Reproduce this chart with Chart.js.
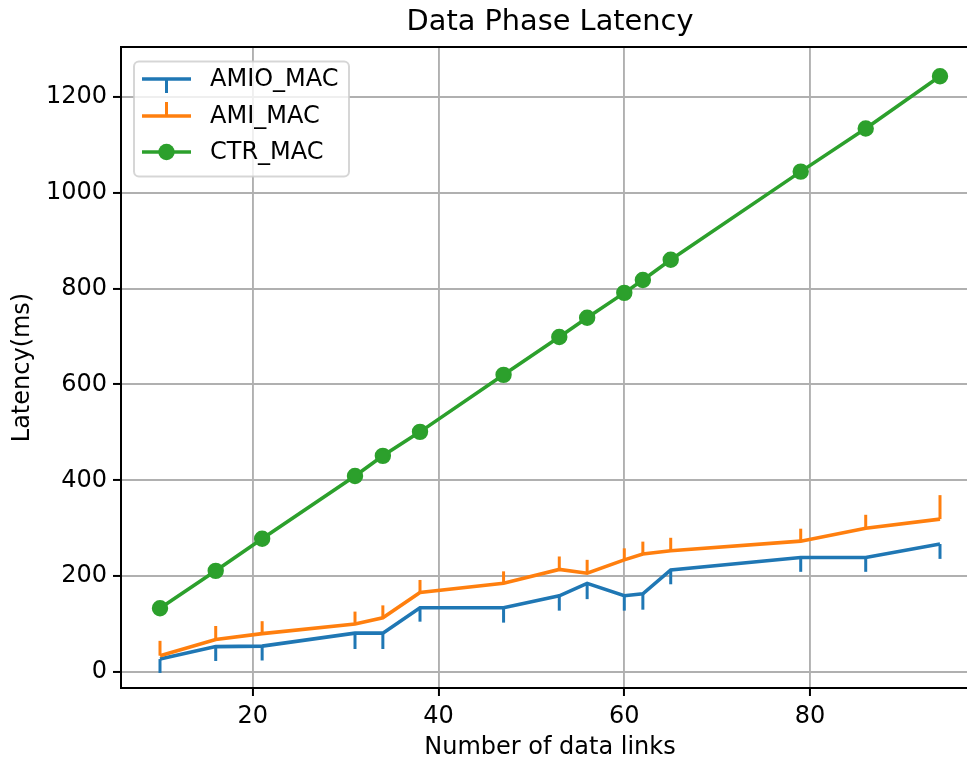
<!DOCTYPE html>
<html>
<head>
<meta charset="utf-8">
<script src="https://cdn.jsdelivr.net/npm/chart.js@4/dist/chart.umd.min.js"></script>
<style>
  html, body { margin: 0; padding: 0; background: #fff; overflow: hidden; width: 967px; height: 760px; }
  canvas { display: block; }
</style>
</head>
<body>
<!-- the axes run a little past the right edge of the page -->
<canvas id="c" width="979" height="760"></canvas>
<script>
// Number of data links on the x axis
const links = [10, 16, 21, 31, 34, 38, 47, 53, 56, 60, 62, 65, 79, 86, 94];

// Mean latency (ms) per protocol
const amioMac = [27, 53, 54, 81, 81, 134, 134, 159, 185, 159, 163, 213, 239, 239, 267];
const amiMac  = [34, 68, 80, 100, 113, 166, 185, 214, 206, 234, 246, 253, 273, 300, 319];
const ctrMac  = [133, 211, 278, 409, 451, 501, 620, 699, 739, 791, 818, 860, 1044, 1134, 1243];

// One-sided error (ms): AMIO_MAC below the mean, AMI_MAC above it
const amioErrLow = [29, 30, 30, 33, 33, 29, 31, 31, 33, 31, 33, 30, 30, 30, 31];
const amiErrHigh = [31, 28, 26, 26, 26, 26, 25, 27, 28, 24, 26, 27, 26, 28, 50];

const seriesNames = ['AMIO_MAC', 'AMI_MAC', 'CTR_MAC'];
const xTicks = [20, 40, 60, 80];
const yTicks = [0, 200, 400, 600, 800, 1000, 1200];
const chartTitle = 'Data Phase Latency';

const BLUE = '#1f77b4', ORANGE = '#ff7f0e', GREEN = '#2ca02c';
const FONT = '"DejaVu Sans", "Liberation Sans", sans-serif';

const toPoints = (ys) => links.map((x, i) => ({ x: x, y: ys[i] }));

// Per-dataset one-sided error bars, drawn right after their own line
const errorBars = {
  id: 'errorBars',
  afterDatasetDraw(chart, args) {
    const ds = chart.data.datasets[args.index];
    if (!ds.errors) return;
    const xs = chart.scales.x, ys = chart.scales.y, ctx = chart.ctx;
    const area = chart.chartArea;
    ctx.save();
    ctx.beginPath();
    ctx.rect(area.left, area.top, area.right - area.left, area.bottom - area.top);
    ctx.clip();
    ctx.strokeStyle = ds.borderColor;
    ctx.lineWidth = 3;
    ctx.lineCap = 'butt';
    ds.data.forEach((p, i) => {
      const px = xs.getPixelForValue(p.x);
      const y0 = ys.getPixelForValue(p.y);
      const y1 = ys.getPixelForValue(p.y + ds.errDir * ds.errors[i]);
      ctx.beginPath();
      ctx.moveTo(px, y0);
      ctx.lineTo(px, y1);
      ctx.stroke();
    });
    ctx.restore();
  }
};

// Title centred over the axes, the box spines, and the framed legend
const frameAndLegend = {
  id: 'frameAndLegend',
  afterDraw(chart) {
    const ctx = chart.ctx, a = chart.chartArea;
    ctx.save();

    ctx.fillStyle = '#000';
    ctx.font = '28.8px ' + FONT;
    ctx.textAlign = 'center';
    ctx.textBaseline = 'middle';
    ctx.fillText(chartTitle, (a.left + a.right) / 2, a.top / 2 - 1);

    ctx.strokeStyle = '#000';
    ctx.lineWidth = 2;
    ctx.beginPath();
    ctx.moveTo(a.left - 1, a.top);
    ctx.lineTo(a.right - 1, a.top);
    ctx.lineTo(a.right - 1, a.bottom);
    ctx.stroke();

    // legend box
    const bx = a.left + 13, by = a.top + 14.5, bw = 215, bh = 115, r = 5;
    ctx.beginPath();
    ctx.moveTo(bx + r, by);
    ctx.arcTo(bx + bw, by, bx + bw, by + bh, r);
    ctx.arcTo(bx + bw, by + bh, bx, by + bh, r);
    ctx.arcTo(bx, by + bh, bx, by, r);
    ctx.arcTo(bx, by, bx + bw, by, r);
    ctx.closePath();
    ctx.fillStyle = 'rgba(255,255,255,0.8)';
    ctx.fill();
    ctx.strokeStyle = 'rgba(204,204,204,0.8)';
    ctx.lineWidth = 2;
    ctx.stroke();

    const hx0 = bx + 8, hx1 = bx + 57, tx = bx + 76;
    const rows = [by + 17.5, by + 54.5, by + 90.5];
    chart.data.datasets.forEach((ds, i) => {
      const cy = rows[i];
      ctx.strokeStyle = ds.borderColor;
      ctx.lineWidth = 3.6;
      ctx.beginPath();
      ctx.moveTo(hx0, cy);
      ctx.lineTo(hx1, cy);
      ctx.stroke();
      const mx = (hx0 + hx1) / 2;
      if (ds.errors) {
        ctx.lineWidth = 3;
        ctx.beginPath();
        ctx.moveTo(mx, cy);
        ctx.lineTo(mx, cy - ds.errDir * 14);
        ctx.stroke();
      }
      if (ds.pointRadius > 0) {
        ctx.fillStyle = ds.backgroundColor;
        ctx.beginPath();
        ctx.arc(mx, cy, 8.2, 0, Math.PI * 2);
        ctx.fill();
      }
      ctx.fillStyle = '#000';
      ctx.font = '24px ' + FONT;
      ctx.textBaseline = 'middle';
      ctx.textAlign = 'left';
      ctx.fillText(ds.label, tx, cy + 1);
    });
    ctx.restore();
  }
};

new Chart(document.getElementById('c'), {
  type: 'line',
  data: {
    datasets: [
      { label: seriesNames[0], data: toPoints(amioMac), borderColor: BLUE, backgroundColor: BLUE,
        borderWidth: 3.6, pointRadius: 0, errors: amioErrLow, errDir: -1, order: 2 },
      { label: seriesNames[1], data: toPoints(amiMac), borderColor: ORANGE, backgroundColor: ORANGE,
        borderWidth: 3.6, pointRadius: 0, errors: amiErrHigh, errDir: 1, order: 1 },
      { label: seriesNames[2], data: toPoints(ctrMac), borderColor: GREEN, backgroundColor: GREEN,
        borderWidth: 3.6, pointRadius: 7, pointBorderWidth: 2.4, pointBorderColor: GREEN,
        pointHoverRadius: 7, order: 0 }
    ]
  },
  options: {
    responsive: false,
    animation: false,
    devicePixelRatio: 1,
    layout: { autoPadding: false, padding: { top: 47, left: 0, right: 0, bottom: 0 } },
    plugins: {
      legend: { display: false },
      tooltip: { enabled: false },
      title: { display: false }
    },
    scales: {
      x: {
        type: 'linear',
        min: 5.8,
        max: 98.2,
        afterFit(s) { s.height = 72; s.paddingLeft = 0; s.paddingRight = 0; },
        afterBuildTicks(s) { s.ticks = xTicks.map(v => ({ value: v })); },
        ticks: { color: '#000', font: { family: FONT, size: 24 }, padding: 6, maxRotation: 0,
                 callback: (v) => String(v) },
        grid: { color: '#b0b0b0', lineWidth: 1.9, tickColor: '#000', tickLength: 8, tickWidth: 2 },
        border: { display: true, color: '#000', width: 2 },
        title: { display: true, text: 'Number of data links', color: '#000',
                 font: { family: FONT, size: 24, lineHeight: 1.0 }, padding: { top: 0, bottom: 0 } }
      },
      y: {
        type: 'linear',
        min: -33.4,
        max: 1304,
        afterFit(s) { s.width = 121; s.paddingTop = 0; s.paddingBottom = 0; },
        afterBuildTicks(s) { s.ticks = yTicks.map(v => ({ value: v })); },
        ticks: { color: '#000', font: { family: FONT, size: 24 }, padding: 6,
                 callback: (v) => String(v) },
        grid: { color: '#b0b0b0', lineWidth: 1.9, tickColor: '#000', tickLength: 8, tickWidth: 2 },
        border: { display: true, color: '#000', width: 2 },
        title: { display: true, text: 'Latency(ms)', color: '#000',
                 font: { family: FONT, size: 24, lineHeight: 1.2 }, padding: { top: 8, bottom: 4 } }
      }
    }
  },
  plugins: [errorBars, frameAndLegend]
});
</script>
</body>
</html>
